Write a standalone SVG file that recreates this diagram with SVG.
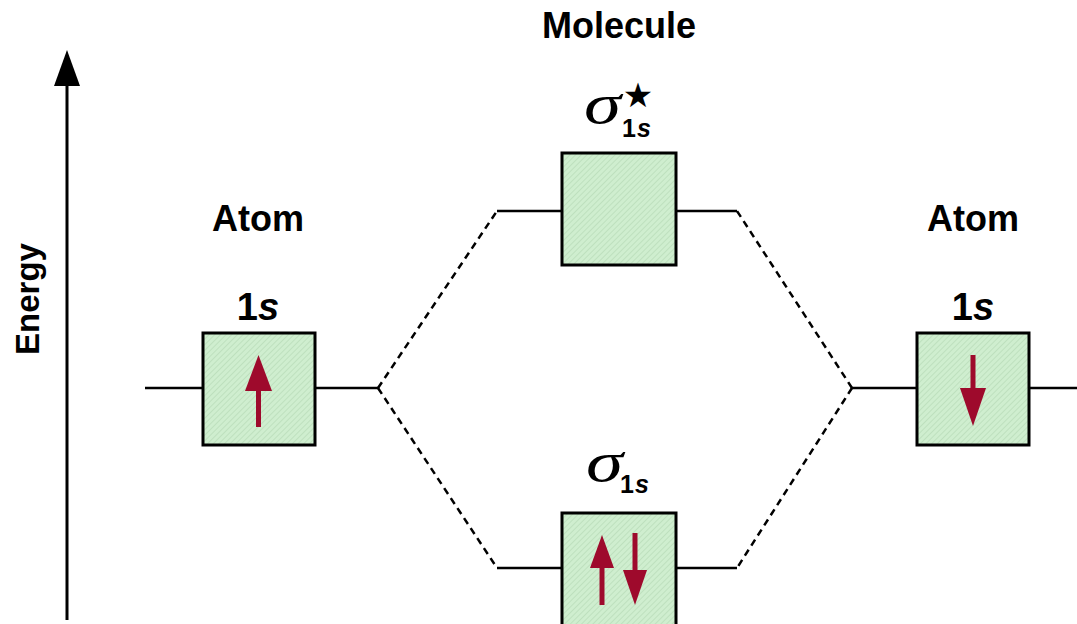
<svg xmlns="http://www.w3.org/2000/svg" width="1077" height="624" viewBox="0 0 1077 624">
<defs>
<pattern id="hatch" width="4" height="4" patternUnits="userSpaceOnUse" patternTransform="rotate(45)">
<rect width="4" height="4" fill="#cfeecf"/>
<line x1="0" y1="0" x2="0" y2="4" stroke="#b9dcb9" stroke-width="1.5"/>
</pattern>
</defs>
<style>
.box{fill:url(#hatch);stroke:#000;stroke-width:3}
.lvl{stroke:#000;stroke-width:2.5;fill:none}
.dash{stroke:#000;stroke-width:2.5;fill:none;stroke-dasharray:7,5}
.lbl{font-family:"Liberation Sans",Arial,sans-serif;font-weight:bold;fill:#000}
.sig{font-family:"Liberation Serif","Times New Roman",serif;font-style:italic;fill:#000}
.spin{fill:#9e0a2c}
</style>
<rect width="1077" height="624" fill="#fff"/>

<g id="energy-axis">
<line x1="67" y1="620" x2="67" y2="80" stroke="#000" stroke-width="3"/>
<path d="M54,86 L67,50 L80,86 Z" fill="#000"/>
<text class="lbl" font-size="33" transform="translate(39,299) rotate(-90)" text-anchor="middle">Energy</text>
</g>

<text class="lbl" font-size="36" x="619" y="38" text-anchor="middle">Molecule</text>

<g id="connectors">
<line class="lvl" x1="145" y1="388" x2="203" y2="388"/>
<line class="lvl" x1="315" y1="388" x2="378" y2="388"/>
<line class="lvl" x1="852" y1="388" x2="917" y2="388"/>
<line class="lvl" x1="1029" y1="388" x2="1077" y2="388"/>
<line class="lvl" x1="497" y1="211" x2="562" y2="211"/>
<line class="lvl" x1="676" y1="211" x2="737" y2="211"/>
<line class="lvl" x1="497" y1="568" x2="562" y2="568"/>
<line class="lvl" x1="676" y1="568" x2="737" y2="568"/>
<line class="dash" x1="378" y1="388" x2="497" y2="211"/>
<line class="dash" x1="378" y1="388" x2="497" y2="568"/>
<line class="dash" x1="852" y1="388" x2="737" y2="211"/>
<line class="dash" x1="852" y1="388" x2="737" y2="568"/>
</g>

<g id="atom-left">
<text class="lbl" font-size="36" x="258" y="231" text-anchor="middle">Atom</text>
<text class="lbl" font-size="38" x="258" y="320" text-anchor="middle">1<tspan font-style="italic">s</tspan></text>
<rect class="box" x="203" y="333" width="112" height="112"/>
<rect class="spin" x="256" y="388" width="5" height="39"/>
<path class="spin" d="M245,391 L258.5,355 L272,391 Z"/>
</g>

<g id="atom-right">
<text class="lbl" font-size="36" x="973" y="231" text-anchor="middle">Atom</text>
<text class="lbl" font-size="38" x="973" y="320" text-anchor="middle">1<tspan font-style="italic">s</tspan></text>
<rect class="box" x="917" y="333" width="112" height="112"/>
<rect class="spin" x="970.5" y="355" width="5" height="36"/>
<path class="spin" d="M960,388 L973,426 L986,388 Z"/>
</g>

<g id="sigma-star">
<text class="sig" font-size="58" x="584" y="123" textLength="37" lengthAdjust="spacingAndGlyphs">σ</text>
<text font-family="DejaVu Sans,sans-serif" font-size="34" x="638" y="107" text-anchor="middle">★</text>
<text class="lbl" font-size="25" x="622" y="137" letter-spacing="1">1<tspan font-style="italic">s</tspan></text>
<rect class="box" x="562" y="153" width="114" height="112"/>
</g>

<g id="sigma">
<text class="sig" font-size="58" x="586" y="481" textLength="37" lengthAdjust="spacingAndGlyphs">σ</text>
<text class="lbl" font-size="25" x="620" y="493" letter-spacing="1">1<tspan font-style="italic">s</tspan></text>
<rect class="box" x="562" y="513" width="114" height="124"/>
<rect class="spin" x="599.5" y="565" width="5" height="40"/>
<path class="spin" d="M590,568 L602,535 L614,568 Z"/>
<rect class="spin" x="632.5" y="533" width="5" height="40"/>
<path class="spin" d="M623,570 L635,605 L647,570 Z"/>
</g>
</svg>
